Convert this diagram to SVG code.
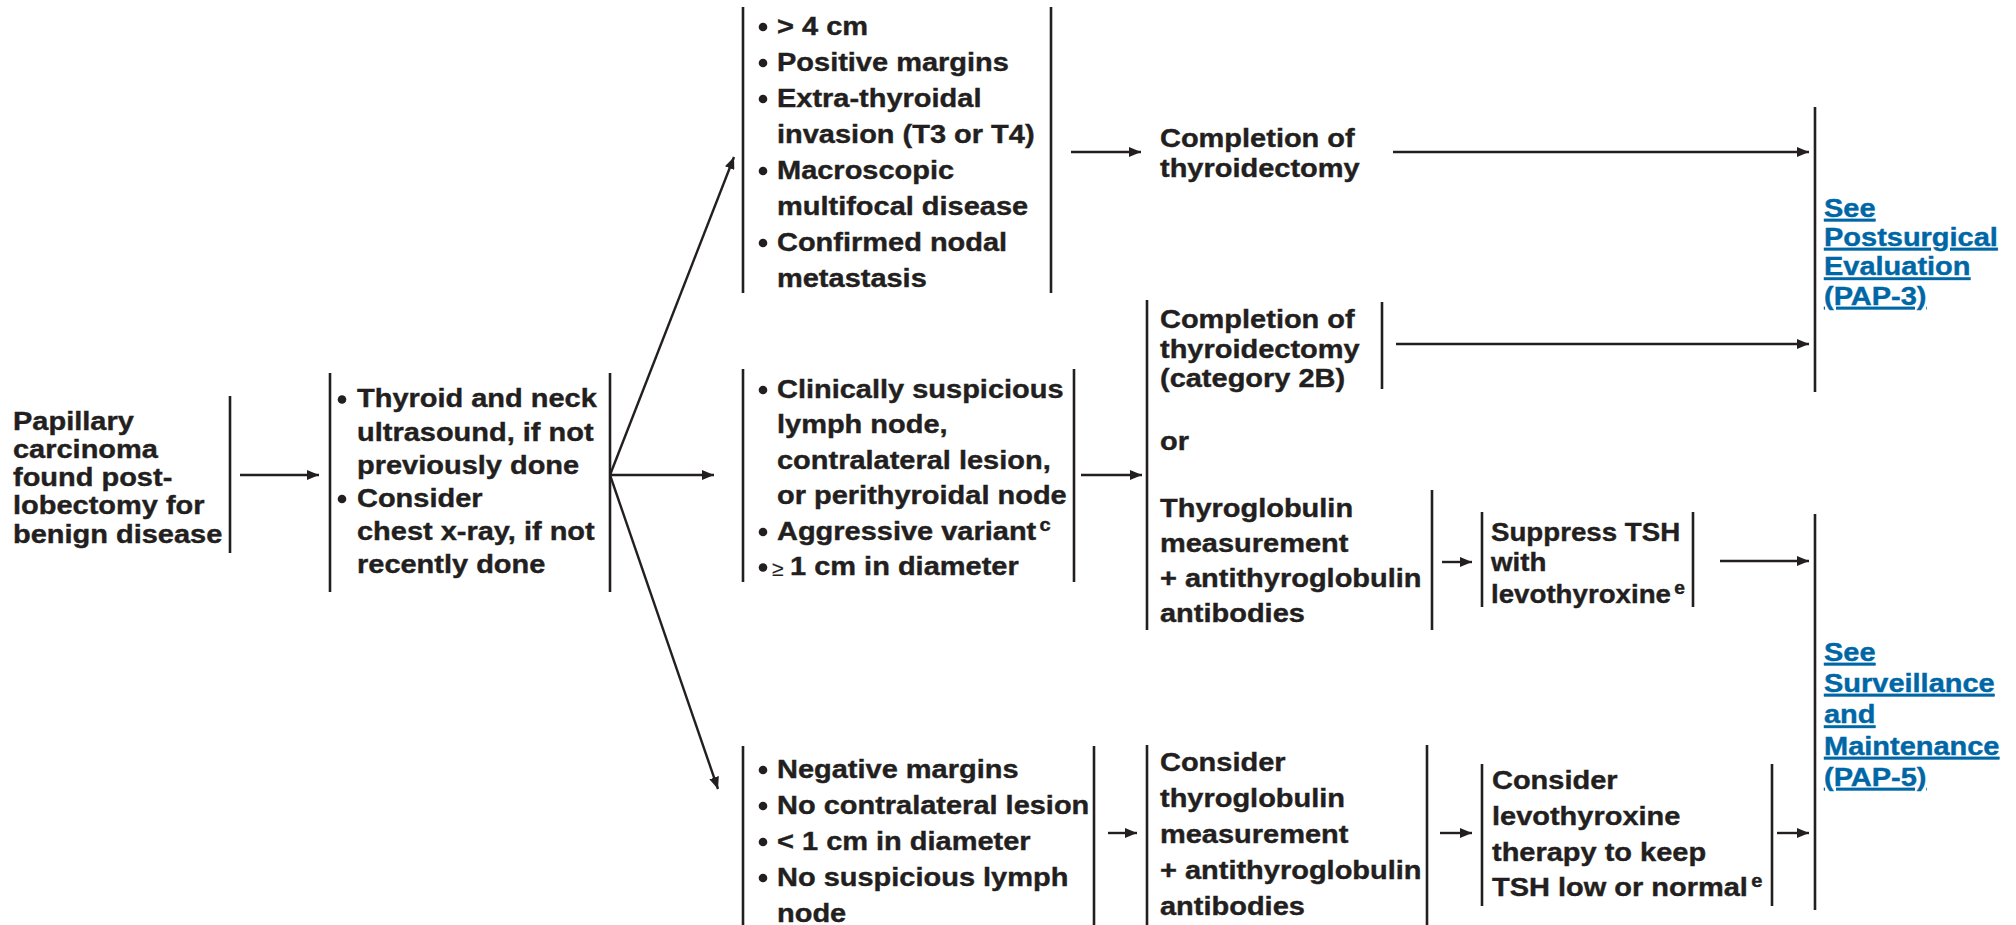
<svg xmlns="http://www.w3.org/2000/svg" width="2016" height="925" viewBox="0 0 2016 925">
  <defs>
    <marker id="ah" viewBox="0 0 12 10" refX="12" refY="5" markerWidth="12" markerHeight="10" markerUnits="userSpaceOnUse" orient="auto">
      <path d="M0,0 L12,5 L0,10 z" fill="#231f20"/>
    </marker>
  </defs>
  <style>
    text { font-family: "Liberation Sans", Arial, Helvetica, sans-serif; font-weight: bold; font-size: 26px; fill: #231f20; stroke: #231f20; stroke-width: 0.4px; }
    .bar { stroke: #231f20; stroke-width: 2.6; fill: none; }
    .arr { stroke: #231f20; stroke-width: 2.4; fill: none; marker-end: url(#ah); }
    .dot { fill: #231f20; }
    .link { fill: #0067a6; stroke: #0067a6; text-decoration: underline; }
    .sup { font-size: 18px; }
    .ge { font-weight: normal; font-size: 21px; stroke-width: 0.2px; }
  </style>
  <rect width="2016" height="925" fill="#ffffff"/>

  <!-- starting condition -->
  <g id="n-start">
    <g transform="translate(13 0) scale(1.115 1)">
      <text y="430">Papillary</text>
      <text y="458">carcinoma</text>
      <text y="486">found post-</text>
      <text y="514.5">lobectomy for</text>
      <text y="543">benign disease</text>
    </g>
    <line class="bar" x1="230" y1="396" x2="230" y2="553"/>
  </g>

  <!-- workup -->
  <g id="n-workup">
    <line class="bar" x1="330" y1="373" x2="330" y2="592"/>
    <circle class="dot" cx="342" cy="399.5" r="4.3"/>
    <circle class="dot" cx="342" cy="499" r="4.3"/>
    <g transform="translate(357 0) scale(1.115 1)">
      <text y="407.5">Thyroid and neck</text>
      <text y="440.7">ultrasound, if not</text>
      <text y="473.9">previously done</text>
      <text y="507.1">Consider</text>
      <text y="540.3">chest x-ray, if not</text>
      <text y="573.5">recently done</text>
    </g>
    <line class="bar" x1="610" y1="373" x2="610" y2="592"/>
  </g>

  <!-- high-risk findings -->
  <g id="n-highrisk">
    <line class="bar" x1="743" y1="7" x2="743" y2="293"/>
    <circle class="dot" cx="763" cy="27" r="4.3"/>
    <circle class="dot" cx="763" cy="63" r="4.3"/>
    <circle class="dot" cx="763" cy="99" r="4.3"/>
    <circle class="dot" cx="763" cy="171" r="4.3"/>
    <circle class="dot" cx="763" cy="243" r="4.3"/>
    <g transform="translate(777 0) scale(1.115 1)">
      <text y="35">&gt; 4 cm</text>
      <text y="71">Positive margins</text>
      <text y="107">Extra-thyroidal</text>
      <text y="143">invasion (T3 or T4)</text>
      <text y="179">Macroscopic</text>
      <text y="215">multifocal disease</text>
      <text y="251">Confirmed nodal</text>
      <text y="287">metastasis</text>
    </g>
    <line class="bar" x1="1051" y1="7" x2="1051" y2="293"/>
  </g>

  <g id="n-completion">
    <g transform="translate(1160 0) scale(1.115 1)">
      <text y="147">Completion of</text>
      <text y="177">thyroidectomy</text>
    </g>
  </g>

  <g id="n-pap3">
    <line class="bar" x1="1815" y1="107" x2="1815" y2="392"/>
    <g transform="translate(1824 0) scale(1.115 1)">
      <text class="link" y="217">See</text>
      <text class="link" y="246">Postsurgical</text>
      <text class="link" y="275.5">Evaluation</text>
      <text class="link" y="305">(PAP-3)</text>
    </g>
  </g>

  <!-- intermediate findings -->
  <g id="n-intermediate">
    <line class="bar" x1="743" y1="369" x2="743" y2="582"/>
    <circle class="dot" cx="763" cy="390" r="4.3"/>
    <circle class="dot" cx="763" cy="532" r="4.3"/>
    <circle class="dot" cx="763" cy="567.5" r="4.3"/>
    <g transform="translate(777 0) scale(1.115 1)">
      <text y="398">Clinically suspicious</text>
      <text y="433.5">lymph node,</text>
      <text y="469">contralateral lesion,</text>
      <text y="504.5">or perithyroidal node</text>
      <text y="540">Aggressive variant<tspan class="sup" dx="3" dy="-9">c</tspan></text>
      <text x="11.7" y="575.5">1 cm in diameter</text>
    </g>
    <text class="ge" x="772" y="575.5">≥</text>
    <line class="bar" x1="1074" y1="369" x2="1074" y2="582"/>
  </g>

  <g id="n-options">
    <line class="bar" x1="1147" y1="300" x2="1147" y2="630"/>
    <g id="n-completion-2b">
      <g transform="translate(1160 0) scale(1.115 1)">
        <text y="328">Completion of</text>
        <text y="358">thyroidectomy</text>
        <text y="387.5">(category 2B)</text>
      </g>
      <line class="bar" x1="1382" y1="302" x2="1382" y2="389"/>
    </g>
    <g transform="translate(1160 0) scale(1.115 1)">
      <text y="450">or</text>
    </g>
    <g id="n-tg">
      <g transform="translate(1160 0) scale(1.115 1)">
        <text y="517">Thyroglobulin</text>
        <text y="552">measurement</text>
        <text y="587">+ antithyroglobulin</text>
        <text y="622">antibodies</text>
      </g>
      <line class="bar" x1="1432" y1="490" x2="1432" y2="630"/>
    </g>
  </g>

  <g id="n-suppress">
    <line class="bar" x1="1482" y1="512" x2="1482" y2="607"/>
    <g transform="translate(1491 0) scale(1.065 1)">
      <text y="541">Suppress TSH</text>
      <text y="571">with</text>
      <text y="603">levothyroxine<tspan class="sup" dx="3" dy="-9">e</tspan></text>
    </g>
    <line class="bar" x1="1693" y1="512" x2="1693" y2="607"/>
  </g>

  <g id="n-pap5">
    <line class="bar" x1="1815" y1="514" x2="1815" y2="910"/>
    <g transform="translate(1824 0) scale(1.115 1)">
      <text class="link" y="661">See</text>
      <text class="link" y="692">Surveillance</text>
      <text class="link" y="723.5">and</text>
      <text class="link" y="755">Maintenance</text>
      <text class="link" y="786">(PAP-5)</text>
    </g>
  </g>

  <!-- low-risk findings -->
  <g id="n-lowrisk">
    <line class="bar" x1="743" y1="746" x2="743" y2="925"/>
    <circle class="dot" cx="763" cy="770" r="4.3"/>
    <circle class="dot" cx="763" cy="806" r="4.3"/>
    <circle class="dot" cx="763" cy="842" r="4.3"/>
    <circle class="dot" cx="763" cy="878" r="4.3"/>
    <g transform="translate(777 0) scale(1.115 1)">
      <text y="778">Negative margins</text>
      <text y="814">No contralateral lesion</text>
      <text y="850">&lt; 1 cm in diameter</text>
      <text y="886">No suspicious lymph</text>
      <text y="922">node</text>
    </g>
    <line class="bar" x1="1094" y1="746" x2="1094" y2="925"/>
  </g>

  <g id="n-consider-tg">
    <line class="bar" x1="1147" y1="745" x2="1147" y2="925"/>
    <g transform="translate(1160 0) scale(1.115 1)">
      <text y="771">Consider</text>
      <text y="807">thyroglobulin</text>
      <text y="843">measurement</text>
      <text y="879">+ antithyroglobulin</text>
      <text y="915">antibodies</text>
    </g>
    <line class="bar" x1="1427" y1="745" x2="1427" y2="925"/>
  </g>

  <g id="n-consider-lt4">
    <line class="bar" x1="1482" y1="764" x2="1482" y2="906"/>
    <g transform="translate(1492 0) scale(1.115 1)">
      <text y="789">Consider</text>
      <text y="825">levothyroxine</text>
      <text y="861">therapy to keep</text>
      <text y="896">TSH low or normal<tspan class="sup" dx="3" dy="-9">e</tspan></text>
    </g>
    <line class="bar" x1="1772" y1="764" x2="1772" y2="906"/>
  </g>

  <!-- connectors -->
  <g id="connectors">
    <line class="arr" x1="240" y1="475" x2="319" y2="475"/>
    <line class="arr" x1="610" y1="475" x2="734" y2="157"/>
    <line class="arr" x1="610" y1="475" x2="714" y2="475"/>
    <line class="arr" x1="610" y1="475" x2="718" y2="789"/>
    <line class="arr" x1="1071" y1="152" x2="1141" y2="152"/>
    <line class="arr" x1="1393" y1="152" x2="1809" y2="152"/>
    <line class="arr" x1="1081" y1="475" x2="1142" y2="475"/>
    <line class="arr" x1="1396" y1="344" x2="1809" y2="344"/>
    <line class="arr" x1="1442" y1="562" x2="1472" y2="562"/>
    <line class="arr" x1="1720" y1="561" x2="1809" y2="561"/>
    <line class="arr" x1="1108" y1="833" x2="1137" y2="833"/>
    <line class="arr" x1="1440" y1="833" x2="1472" y2="833"/>
    <line class="arr" x1="1777" y1="833" x2="1809" y2="833"/>
  </g>
</svg>
